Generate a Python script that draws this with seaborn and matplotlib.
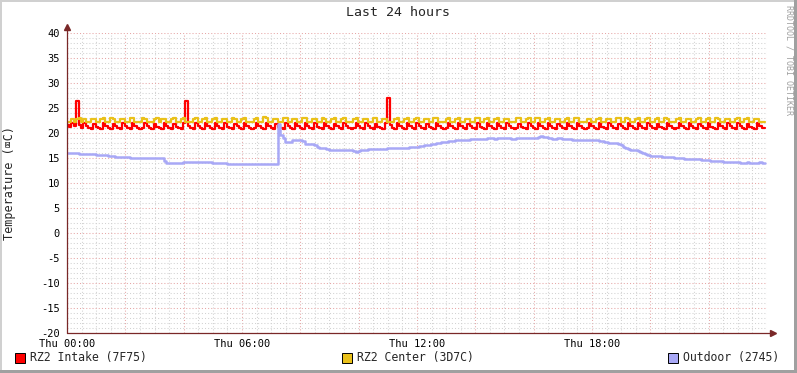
import numpy as np
import pandas as pd
import matplotlib
matplotlib.use("Agg")
import matplotlib.pyplot as plt
import seaborn as sns
from matplotlib.ticker import MultipleLocator, FuncFormatter
from matplotlib.patches import Rectangle

# ---------------- data (5-minute samples, Thu 00:00 .. 24:00) ----------------
series_names = ["RZ2 Intake (7F75)", "RZ2 Center (3D7C)", "Outdoor (2745)"]
series_colors = ["#FF0000", "#EAC11A", "#A8A8F6"]
x_tick_hours = [0, 6, 12, 18]
x_tick_labels = ["Thu 00:00", "Thu 06:00", "Thu 12:00", "Thu 18:00"]

intake = [
    21.6, 21.2, 22.0, 21.4, 26.4, 21.6, 21.1, 22.0, 21.4, 21.1, 20.9, 21.9,
    21.3, 21.0, 20.9, 22.0, 21.4, 21.1, 20.9, 21.9, 21.4, 21.0, 20.8, 22.0,
    21.4, 21.1, 20.9, 22.1, 21.4, 21.1, 20.9, 21.0, 22.0, 21.5, 21.1, 20.9,
    21.9, 21.3, 21.0, 20.9, 22.0, 21.4, 21.0, 20.8, 21.9, 21.3, 21.0, 20.9,
    22.0, 26.4, 21.4, 21.0, 20.9, 22.0, 21.4, 21.1, 20.9, 22.0, 21.4, 21.0,
    20.9, 22.1, 21.4, 21.1, 20.9, 22.0, 21.3, 21.0, 20.8, 21.9, 21.4, 21.1,
    20.9, 22.0, 21.4, 21.1, 20.9, 21.0, 22.0, 21.4, 21.0, 20.9, 22.1, 21.5,
    21.1, 20.9, 21.9, 21.3, 21.0, 20.8, 22.0, 21.4, 21.1, 20.9, 22.0, 21.4,
    21.0, 20.9, 22.1, 21.4, 21.1, 20.9, 22.0, 21.3, 21.0, 20.8, 22.0, 21.4,
    21.1, 20.9, 21.9, 21.4, 21.0, 20.9, 22.0, 21.4, 21.1, 20.9, 21.0, 22.1,
    21.4, 21.0, 20.8, 22.0, 21.4, 21.1, 20.9, 21.9, 21.3, 21.0, 20.9, 22.0,
    27.0, 21.6, 21.1, 20.9, 22.0, 21.4, 21.1, 20.9, 22.1, 21.4, 21.0, 20.8,
    22.0, 21.4, 21.1, 20.9, 21.9, 21.3, 21.0, 20.9, 22.0, 21.4, 21.1, 20.9,
    21.0, 22.1, 21.4, 21.1, 20.9, 22.0, 21.4, 21.0, 20.8, 21.9, 21.4, 21.1,
    20.9, 22.0, 21.3, 21.0, 20.9, 22.1, 21.4, 21.1, 20.9, 22.0, 21.4, 21.0,
    20.8, 22.0, 21.4, 21.1, 20.9, 21.0, 21.9, 21.3, 21.0, 20.9, 22.0, 21.4,
    21.1, 20.9, 22.1, 21.5, 21.1, 20.9, 22.0, 21.4, 21.0, 20.8, 21.9, 21.4,
    21.1, 20.9, 22.0, 21.4, 21.1, 20.9, 22.1, 21.4, 21.0, 20.9, 21.0, 22.0,
    21.4, 21.1, 20.9, 22.0, 21.3, 21.0, 20.8, 22.0, 21.4, 21.1, 20.9, 21.9,
    21.4, 21.0, 20.9, 22.1, 21.4, 21.1, 20.9, 22.0, 21.4, 21.0, 20.8, 22.0,
    21.4, 21.1, 20.9, 21.9, 21.3, 21.0, 20.9, 22.0, 21.4, 21.1, 20.9, 21.0,
    22.1, 21.4, 21.0, 20.8, 22.0, 21.4, 21.1, 20.9, 21.9, 21.4, 21.0, 20.9,
    22.0, 21.3, 21.0, 20.9, 22.1, 21.4, 21.1, 20.9, 22.0, 21.4, 21.0, 20.8,
    22.0, 21.4, 21.1, 20.9, 21.9, 21.3, 21.0, 20.9, 22.0, 21.4, 21.1, 21.0,
]

center = [
    22.3, 22.2, 22.9, 22.2, 22.9, 23.0, 22.2, 22.8, 22.2, 22.2, 22.9, 22.9,
    22.2, 22.2, 22.9, 23.0, 22.2, 22.2, 23.0, 22.9, 22.2, 22.2, 22.8, 22.9,
    22.2, 22.2, 23.0, 23.1, 22.2, 22.2, 22.2, 23.0, 22.9, 22.2, 22.2, 22.2,
    22.9, 23.0, 22.2, 22.8, 22.9, 22.2, 22.2, 22.9, 23.0, 22.2, 22.2, 22.9,
    23.0, 22.2, 22.2, 22.2, 22.9, 23.0, 22.2, 22.2, 22.9, 23.1, 22.2, 22.2,
    22.9, 23.0, 22.2, 22.2, 22.9, 22.9, 22.2, 22.2, 23.0, 22.9, 22.2, 22.2,
    22.9, 23.0, 22.2, 22.2, 22.2, 22.9, 23.0, 22.2, 22.2, 23.2, 23.1, 22.2,
    22.2, 22.9, 22.9, 22.2, 22.2, 23.0, 23.0, 22.2, 22.2, 22.9, 22.9, 22.2,
    22.2, 23.0, 23.1, 22.2, 22.2, 22.9, 22.9, 22.2, 22.2, 23.0, 22.9, 22.2,
    22.2, 22.9, 23.0, 22.2, 22.2, 22.9, 23.0, 22.2, 22.2, 22.2, 22.9, 23.0,
    22.2, 22.2, 22.9, 22.9, 22.2, 22.2, 23.0, 23.1, 22.2, 22.2, 22.9, 22.9,
    22.2, 22.2, 22.2, 22.9, 23.0, 22.2, 22.2, 22.9, 23.0, 22.2, 22.2, 22.9,
    23.0, 22.2, 22.2, 22.9, 22.9, 22.2, 22.2, 23.0, 23.1, 22.2, 22.2, 22.2,
    22.9, 23.0, 22.2, 22.2, 22.9, 23.0, 22.2, 22.2, 22.9, 22.9, 22.2, 22.2,
    23.0, 23.1, 22.2, 22.2, 22.9, 23.0, 22.2, 22.2, 22.9, 23.0, 22.2, 22.2,
    22.9, 22.9, 22.2, 22.2, 22.2, 23.0, 23.0, 22.2, 22.2, 22.9, 23.0, 22.2,
    22.2, 23.0, 23.1, 22.2, 22.2, 22.9, 23.0, 22.2, 22.2, 22.9, 22.9, 22.2,
    22.2, 22.9, 23.0, 22.2, 22.2, 23.1, 23.0, 22.2, 22.2, 22.2, 22.9, 22.9,
    22.2, 22.2, 22.9, 23.0, 22.2, 22.2, 22.9, 22.9, 22.2, 22.2, 23.0, 23.0,
    22.2, 22.2, 23.0, 22.9, 22.2, 22.2, 22.9, 23.0, 22.2, 22.2, 22.9, 23.1,
    22.2, 22.2, 22.9, 23.0, 22.2, 22.2, 23.0, 22.9, 22.2, 22.2, 22.2, 22.9,
    23.0, 22.2, 22.2, 22.9, 22.9, 22.2, 22.2, 22.9, 23.0, 22.2, 22.2, 22.9,
    23.0, 22.2, 22.2, 23.0, 22.9, 22.2, 22.2, 22.9, 22.9, 22.2, 22.2, 22.9,
    23.0, 22.2, 22.2, 22.9, 23.0, 22.2, 22.2, 22.9, 22.9, 22.2, 22.2, 22.2,
]

outdoor = [
    16.0, 16.0, 16.1, 16.1, 16.0, 15.9, 15.9, 15.9, 15.8, 15.8, 15.9, 15.8,
    15.7, 15.6, 15.6, 15.6, 15.6, 15.5, 15.4, 15.4, 15.3, 15.3, 15.3, 15.3,
    15.2, 15.2, 15.1, 15.1, 15.1, 15.1, 15.1, 15.1, 15.0, 15.1, 15.1, 15.0,
    15.0, 15.0, 15.0, 15.0, 14.5, 14.1, 14.1, 14.0, 14.1, 14.1, 14.1, 14.1,
    14.2, 14.2, 14.2, 14.3, 14.3, 14.3, 14.2, 14.2, 14.2, 14.3, 14.3, 14.2,
    14.1, 14.1, 14.1, 14.0, 14.0, 14.0, 13.9, 13.9, 13.9, 13.9, 13.8, 13.8,
    13.8, 13.8, 13.8, 13.8, 13.8, 13.8, 13.8, 13.8, 13.8, 13.8, 13.8, 13.8,
    13.8, 13.8, 13.9, 21.8, 19.6, 19.0, 18.3, 18.3, 18.3, 18.7, 18.7, 18.6,
    18.6, 18.5, 17.9, 17.9, 17.9, 17.8, 17.6, 17.3, 17.1, 17.1, 17.1, 16.9,
    16.7, 16.6, 16.6, 16.6, 16.6, 16.6, 16.7, 16.6, 16.6, 16.6, 16.4, 16.3,
    16.5, 16.6, 16.7, 16.7, 16.8, 16.8, 16.8, 16.8, 16.9, 16.9, 16.9, 16.9,
    17.0, 17.0, 17.0, 17.0, 17.0, 17.1, 17.1, 17.1, 17.1, 17.2, 17.2, 17.2,
    17.3, 17.4, 17.5, 17.6, 17.6, 17.7, 17.8, 17.9, 18.0, 18.1, 18.2, 18.3,
    18.3, 18.4, 18.5, 18.5, 18.6, 18.6, 18.6, 18.7, 18.7, 18.7, 18.8, 18.8,
    18.8, 18.9, 18.9, 18.9, 18.9, 19.0, 19.0, 19.0, 18.9, 19.0, 19.0, 19.0,
    19.0, 19.0, 19.0, 18.9, 18.9, 19.0, 19.0, 19.0, 19.1, 19.1, 19.0, 19.0,
    19.0, 19.1, 19.2, 19.4, 19.3, 19.2, 19.1, 19.1, 18.9, 18.9, 19.0, 19.0,
    18.8, 18.8, 18.8, 18.8, 18.7, 18.7, 18.7, 18.7, 18.6, 18.6, 18.6, 18.6,
    18.7, 18.6, 18.6, 18.5, 18.4, 18.3, 18.2, 18.1, 18.0, 18.0, 18.0, 17.9,
    17.6, 17.3, 17.0, 16.8, 16.7, 16.7, 16.6, 16.5, 16.3, 16.0, 15.8, 15.6,
    15.5, 15.5, 15.4, 15.4, 15.4, 15.3, 15.3, 15.3, 15.2, 15.2, 15.1, 15.1,
    15.0, 15.0, 14.9, 14.9, 14.9, 14.9, 14.8, 14.8, 14.8, 14.7, 14.7, 14.7,
    14.6, 14.5, 14.5, 14.5, 14.4, 14.4, 14.3, 14.3, 14.3, 14.3, 14.2, 14.2,
    14.2, 14.1, 14.1, 14.1, 14.2, 14.1, 14.0, 14.1, 14.1, 14.2, 14.1, 14.1,
]

# ---------------- figure ----------------
sns.set_style("white")
plt.rcParams["font.family"] = ["DejaVu Sans Mono", "DejaVu Sans"]

W, H = 797, 373
fig = plt.figure(figsize=(W / 100, H / 100), dpi=100)
fig.patch.set_facecolor("white")
ax = fig.add_axes([67 / W, 1 - 333 / H, 700 / W, 300 / H])
ax.set_facecolor("white")

hours = np.arange(len(intake)) * 5 / 60.0 + 0.02
df = pd.DataFrame({"hour": hours, "intake": intake, "center": center, "outdoor": outdoor})

ax.set_xlim(0, 24)
ax.set_ylim(-20, 40)

# grid
ax.xaxis.set_major_locator(MultipleLocator(2))
ax.xaxis.set_minor_locator(MultipleLocator(0.5))
ax.yaxis.set_major_locator(MultipleLocator(5))
ax.yaxis.set_minor_locator(MultipleLocator(1))
ax.grid(which="minor", color="#D2D2D2", lw=0.75, ls=(0, (1, 2)))
ax.grid(which="major", color="#E6A6A6", lw=0.75, ls=(0, (1, 2)))
ax.set_axisbelow(True)

axis_col = "#7A2828"
sns.lineplot(data=df, x="hour", y="intake", ax=ax, color=series_colors[0], linewidth=1.6,
             drawstyle="steps-mid", zorder=3)
sns.lineplot(data=df, x="hour", y="center", ax=ax, color=series_colors[1], linewidth=1.6,
             drawstyle="steps-mid", zorder=4)
sns.lineplot(data=df, x="hour", y="outdoor", ax=ax, color=series_colors[2], linewidth=1.8,
             drawstyle="steps-mid", zorder=5)

ax.set_xlabel("")
ax.set_ylabel("")

lab_map = dict(zip(x_tick_hours, x_tick_labels))
ax.xaxis.set_major_formatter(FuncFormatter(lambda v, p: lab_map.get(int(round(v)), "")))
ax.yaxis.set_major_formatter(FuncFormatter(lambda v, p: "%d" % v))
ax.tick_params(axis="both", which="major", length=2, width=0.8, color=axis_col,
               labelsize=7.5, labelcolor="black", pad=3, direction="out")
ax.tick_params(axis="both", which="minor", length=1.5, width=0.6, color=axis_col)
ax.tick_params(axis="x", which="major", pad=2)

for s in ax.spines.values():
    s.set_visible(False)

# axis lines with arrows
ax.plot([0, 0], [-20, 41.0], color=axis_col, lw=0.9, clip_on=False, zorder=6)
ax.plot([0, 24.15], [-20, -20], color=axis_col, lw=0.9, clip_on=False, zorder=6)
ax.plot([0], [41.3], marker="^", ms=4, color=axis_col, clip_on=False, zorder=6)
ax.plot([24.2], [-20], marker=">", ms=4, color=axis_col, clip_on=False, zorder=6)

# texts
fig.text(398 / W, 1 - 13 / H, "Last 24 hours", ha="center", va="center", fontsize=9.5)
fig.text(10 / W, 1 - 183 / H, "Temperature (\u2327C)", ha="center", va="center",
         rotation=90, fontsize=8.5)
fig.text(789 / W, 1 - 60 / H, "RRDTOOL / TOBI OETIKER", ha="center", va="center",
         rotation=270, fontsize=6, color="#A0A0A0")

# legend
leg_x = [15, 342, 668]
for name, col, lx in zip(series_names, series_colors, leg_x):
    fig.patches.append(Rectangle((lx / W, 1 - 363 / H), 10 / W, 10 / H, transform=fig.transFigure,
                                 facecolor=col, edgecolor="black", lw=0.7))
    fig.text((lx + 15) / W, 1 - 358 / H, name, ha="left", va="center", fontsize=8.3)

# frame
fig.patches.append(Rectangle((0, 1 - 2 / H), 1, 2 / H, transform=fig.transFigure, color="#D0D0D0", lw=0))
fig.patches.append(Rectangle((0, 0), 2 / W, 1, transform=fig.transFigure, color="#D0D0D0", lw=0))
fig.patches.append(Rectangle((0, 0), 1, 3 / H, transform=fig.transFigure, color="#A0A0A0", lw=0))
fig.patches.append(Rectangle((1 - 3 / W, 0), 3 / W, 1, transform=fig.transFigure, color="#A0A0A0", lw=0))

fig.savefig("out.png", dpi=100)
